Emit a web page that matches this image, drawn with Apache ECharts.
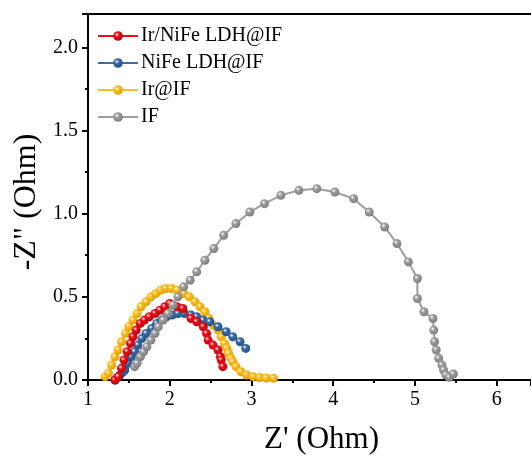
<!DOCTYPE html>
<html>
<head>
<meta charset="utf-8">
<script src="https://cdn.jsdelivr.net/npm/echarts@6/dist/echarts.min.js"></script>
<style>html,body{margin:0;padding:0;background:#fff}#c{width:531px;height:468px}</style>
</head>
<body>
<div id="c"></div>
<script>
// Ir/NiFe LDH@IF
const irNiFeX = [1.33,1.37,1.41,1.44,1.48,1.52,1.55,1.59,1.64,1.69,1.75,1.82,1.88,1.94,2.00,2.09,2.16,2.26,2.33,2.41,2.45,2.47,2.53,2.59,2.62,2.63,2.65];
const irNiFeY = [0.00,0.02,0.07,0.12,0.17,0.22,0.26,0.30,0.34,0.36,0.38,0.40,0.42,0.44,0.46,0.44,0.43,0.37,0.35,0.32,0.28,0.24,0.21,0.18,0.14,0.12,0.08];
// NiFe LDH@IF
const niFeX = [1.33,1.36,1.39,1.42,1.45,1.49,1.53,1.57,1.61,1.66,1.71,1.78,1.84,1.90,1.96,2.03,2.10,2.18,2.26,2.33,2.41,2.49,2.59,2.69,2.77,2.86,2.93];
const niFeY = [0.00,0.015,0.03,0.045,0.06,0.10,0.14,0.17,0.21,0.25,0.28,0.31,0.34,0.36,0.38,0.39,0.40,0.40,0.39,0.38,0.36,0.35,0.32,0.29,0.26,0.23,0.19];
// Ir@IF
const irX = [1.21,1.25,1.29,1.33,1.37,1.41,1.46,1.50,1.55,1.60,1.65,1.71,1.77,1.83,1.89,1.95,2.02,2.09,2.17,2.24,2.31,2.37,2.43,2.48,2.53,2.59,2.63,2.67,2.70,2.72,2.75,2.77,2.81,2.87,2.94,3.02,3.10,3.18,3.27];
const irY = [0.02,0.04,0.09,0.14,0.18,0.23,0.28,0.32,0.36,0.40,0.44,0.47,0.50,0.52,0.54,0.55,0.55,0.54,0.52,0.50,0.47,0.44,0.41,0.37,0.33,0.30,0.26,0.22,0.19,0.16,0.13,0.11,0.08,0.05,0.03,0.02,0.015,0.012,0.01];
// IF
const ifX = [1.57,1.60,1.64,1.68,1.72,1.77,1.82,1.86,1.92,1.98,2.04,2.10,2.17,2.25,2.33,2.43,2.54,2.66,2.81,2.98,3.16,3.36,3.58,3.80,4.02,4.25,4.44,4.63,4.78,4.92,5.03,5.03,5.11,5.22,5.23,5.24,5.26,5.29,5.33,5.35,5.38,5.42,5.47];
const ifY = [0.08,0.10,0.14,0.17,0.20,0.24,0.28,0.32,0.36,0.40,0.45,0.50,0.56,0.60,0.65,0.72,0.79,0.87,0.94,1.01,1.06,1.11,1.14,1.15,1.13,1.09,1.01,0.92,0.82,0.71,0.61,0.49,0.41,0.37,0.30,0.23,0.18,0.13,0.09,0.06,0.03,0.016,0.036];

const seriesNames = ['Ir/NiFe LDH@IF','NiFe LDH@IF','Ir@IF','IF'];
const xTicks = [1,2,3,4,5,6];
const yTicks = [0.0,0.5,1.0,1.5,2.0];

const FONT = 'Liberation Serif';
function zip(a,b){return a.map((v,i)=>[v,b[i]]);}
function ball(base, dark){
  return {type:'radial',x:0.38,y:0.35,r:0.75,colorStops:[
    {offset:0,color:'#ffffff'},{offset:0.3,color:base},{offset:1,color:dark}]};
}
function mk(name, data, base, dark, z){
  return {name:name,type:'line',data:data,smooth:false,symbol:'circle',symbolSize:9,z:z,
    lineStyle:{color:base,width:2},itemStyle:{color:ball(base,dark),borderWidth:0},
    emphasis:{disabled:true},animation:false};
}
const chart = echarts.init(document.getElementById('c'),null,{renderer:'canvas'});
chart.setOption({
  animation:false,
  grid:{left:88,right:0,top:14,bottom:88,containLabel:false},
  legend:{data:seriesNames,orient:'vertical',left:92,top:21,itemWidth:40,itemHeight:12,itemGap:7,
    textStyle:{fontFamily:FONT,fontSize:20,color:'#000',padding:[0,0,0,-2]},
    itemStyle:{borderWidth:0}},
  xAxis:[{type:'value',min:1,max:6.42,interval:1,position:'bottom',
    name:"Z' (Ohm)",nameLocation:'middle',nameGap:44,
    nameTextStyle:{fontFamily:FONT,fontSize:31,color:'#000',padding:[0,0,0,24]},
    axisLine:{show:true,onZero:false,lineStyle:{color:'#000',width:2}},
    axisTick:{show:true,inside:false,length:6,lineStyle:{color:'#000',width:2}},
    minorTick:{show:true,splitNumber:2,length:3,lineStyle:{color:'#000',width:2}},
    axisLabel:{margin:10,fontFamily:FONT,fontSize:20,color:'#000',showMaxLabel:false,
      formatter:v=>xTicks.includes(v)?String(v):''},
    splitLine:{show:false}},
   {type:'value',min:1,max:6.42,position:'top',
    axisLine:{show:true,onZero:false,lineStyle:{color:'#000',width:2}},
    axisTick:{show:false},axisLabel:{show:false},splitLine:{show:false}}],
  yAxis:{type:'value',min:0,max:2.2,interval:0.5,
    name:'-Z" (Ohm)',nameLocation:'middle',nameGap:44,
    nameTextStyle:{fontFamily:FONT,fontSize:32,color:'#000',padding:[0,10,0,0]},
    axisLine:{show:true,onZero:false,lineStyle:{color:'#000',width:2}},
    axisTick:{show:true,inside:false,length:6,lineStyle:{color:'#000',width:2}},
    minorTick:{show:true,splitNumber:2,length:3,lineStyle:{color:'#000',width:2}},
    axisLabel:{margin:10,fontFamily:FONT,fontSize:20,color:'#000',showMaxLabel:false,
      formatter:v=>yTicks.some(t=>Math.abs(t-v)<1e-9)?v.toFixed(1):''},
    splitLine:{show:false}},
  series:[
    mk('Ir@IF',zip(irX,irY),'#fdbd1e','#d99a00',2),
    mk('NiFe LDH@IF',zip(niFeX,niFeY),'#3a6ca6','#1f4a7c',3),
    mk('Ir/NiFe LDH@IF',zip(irNiFeX,irNiFeY),'#ea1019','#b00008',4),
    mk('IF',zip(ifX,ifY),'#9e9e9e','#767676',5)
  ]
});
</script>
</body>
</html>
